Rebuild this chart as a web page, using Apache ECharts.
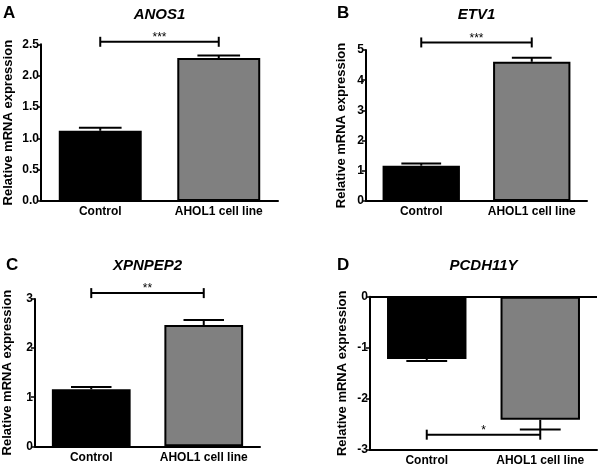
<!DOCTYPE html>
<html>
<head>
<meta charset="utf-8">
<script src="https://cdn.jsdelivr.net/npm/echarts@6/dist/echarts.min.js"></script>
<style>html,body{margin:0;padding:0;background:#fff}#c{width:600px;height:468px}</style>
</head>
<body>
<div id="c"></div>
<script>
// ---- data ----
const categories = ['Control', 'AHOL1 cell line'];
const panelLetters = ['A', 'B', 'C', 'D'];
const geneNames = ['ANOS1', 'ETV1', 'XPNPEP2', 'PCDH11Y'];
const anos1Mean = [1.12, 2.28];
const anos1Err = [0.05, 0.04];
const etv1Mean = [1.17, 4.61];
const etv1Err = [0.07, 0.13];
const xpnpep2Mean = [1.16, 2.47];
const xpnpep2Err = [0.05, 0.10];
const pcdh11yMean = [-1.22, -2.41];
const pcdh11yErr = [0.04, 0.19];
const significance = ['***', '***', '**', '*'];
const bracketLevel = [2.54, 5.25, 3.12, -2.7];
const yMin = [0, 0, 0, -3];
const yMax = [2.5, 5, 3, 0];
const yInterval = [0.5, 1, 1, 1];
const yDecimals = [1, 0, 0, 0];
const yAxisTitle = 'Relative mRNA expression';

const means = [anos1Mean, etv1Mean, xpnpep2Mean, pcdh11yMean];
const errs = [anos1Err, etv1Err, xpnpep2Err, pcdh11yErr];

// ---- layout ----
const grids = [
  {left: 41, top: 44.3, width: 237, height: 156.7},
  {left: 366, top: 50, width: 221, height: 151},
  {left: 35, top: 299, width: 225, height: 147.3},
  {left: 370, top: 296.7, width: 227, height: 153.3}
];
const nameGaps = [26, 18, 21, 21];
const letterPos = [[3, 14], [337, 14], [6, 266], [337, 266]];
const titleY = [15, 15, 266, 266];

const FONT = '"Liberation Sans", Arial, sans-serif';
const chart = echarts.init(document.getElementById('c'), null, {renderer: 'canvas'});

const option = {
  animation: false,
  backgroundColor: '#fff',
  textStyle: {fontFamily: FONT},
  title: [],
  grid: [],
  xAxis: [],
  yAxis: [],
  series: []
};

grids.forEach((g, i) => {
  option.grid.push({left: g.left, top: g.top, width: g.width, height: g.height, containLabel: false});
  option.title.push({
    text: geneNames[i], padding: 0,
    left: g.left + g.width / 2, top: titleY[i] - 8, textAlign: 'center',
    textStyle: {fontFamily: FONT, fontSize: 15, fontWeight: 'bold', fontStyle: 'italic', color: '#000'}
  });
  option.title.push({
    text: panelLetters[i], padding: 0,
    left: letterPos[i][0], top: letterPos[i][1] - 9,
    textStyle: {fontFamily: FONT, fontSize: 17, fontWeight: 'bold', color: '#000'}
  });
  option.xAxis.push({
    type: 'category', gridIndex: i, data: categories,
    position: 'bottom',
    axisLine: {onZero: false, lineStyle: {color: '#000', width: 2}},
    axisTick: {alignWithLabel: true, length: 5, lineStyle: {color: '#000', width: 2}},
    axisLabel: {color: '#000', fontFamily: FONT, fontSize: 12, fontWeight: 'bold', margin: 5,
      interval: 0, hideOverlap: false},
    splitLine: {show: false}
  });
  option.yAxis.push({
    type: 'value', gridIndex: i, min: yMin[i], max: yMax[i], interval: yInterval[i],
    name: yAxisTitle, nameLocation: 'middle', nameGap: nameGaps[i],
    nameTextStyle: {color: '#000', fontFamily: FONT, fontSize: 13, fontWeight: 'bold'},
    axisLine: {show: true, lineStyle: {color: '#000', width: 2}},
    axisTick: {show: true, length: 4, lineStyle: {color: '#000', width: 1.5}},
    axisLabel: {color: '#000', fontFamily: FONT, fontSize: 12, fontWeight: 'bold', margin: 2,
      formatter: v => v.toFixed(yDecimals[i])},
    splitLine: {show: false}
  });
  const bar = {
    type: 'bar', xAxisIndex: i, yAxisIndex: i, barWidth: '70%',
    data: means[i].map((v, k) => ({
      value: v,
      itemStyle: {color: k === 0 ? '#000' : '#808080', borderColor: '#000', borderWidth: 2}
    })),
    z: 2
  };
  if (yMax[i] === 0) {
    bar.markLine = {
      silent: true, symbol: 'none', label: {show: false},
      lineStyle: {color: '#000', width: 2, type: 'solid'},
      data: [{yAxis: 0}]
    };
  }
  option.series.push(bar);
  // error bars
  option.series.push({
    type: 'custom', xAxisIndex: i, yAxisIndex: i, z: 3, clip: false,
    data: means[i].map((v, k) => [k, v, errs[i][k]]),
    renderItem: (params, api) => {
      const x = api.value(0), m = api.value(1), e = api.value(2);
      const s = m < 0 ? -1 : 1;
      const p0 = api.coord([x, m]);
      const p1 = api.coord([x, m + s * e]);
      const w = api.size([1, 0])[0] * 0.18;
      const st = {stroke: '#000', lineWidth: 2};
      return {type: 'group', children: [
        {type: 'line', shape: {x1: p0[0], y1: p0[1], x2: p1[0], y2: p1[1]}, style: st},
        {type: 'line', shape: {x1: p1[0] - w, y1: p1[1], x2: p1[0] + w, y2: p1[1]}, style: st}
      ]};
    }
  });
  // significance bracket
  option.series.push({
    type: 'custom', xAxisIndex: i, yAxisIndex: i, z: 4, clip: false,
    data: [[0, 1, bracketLevel[i]]],
    renderItem: (params, api) => {
      const a = api.coord([api.value(0), api.value(2)]);
      const b = api.coord([api.value(1), api.value(2)]);
      const st = {stroke: '#000', lineWidth: 2};
      const h = 5;
      return {type: 'group', children: [
        {type: 'line', shape: {x1: a[0], y1: a[1], x2: b[0], y2: b[1]}, style: st},
        {type: 'line', shape: {x1: a[0], y1: a[1] - h, x2: a[0], y2: a[1] + h}, style: st},
        {type: 'line', shape: {x1: b[0], y1: b[1] - h, x2: b[0], y2: b[1] + h}, style: st},
        {type: 'text', x: (a[0] + b[0]) / 2, y: a[1] + 2,
          style: {text: significance[i], fill: '#000', font: '12px ' + FONT,
            align: 'center', verticalAlign: 'bottom'}}
      ]};
    }
  });
});

chart.setOption(option);
</script>
</body>
</html>
